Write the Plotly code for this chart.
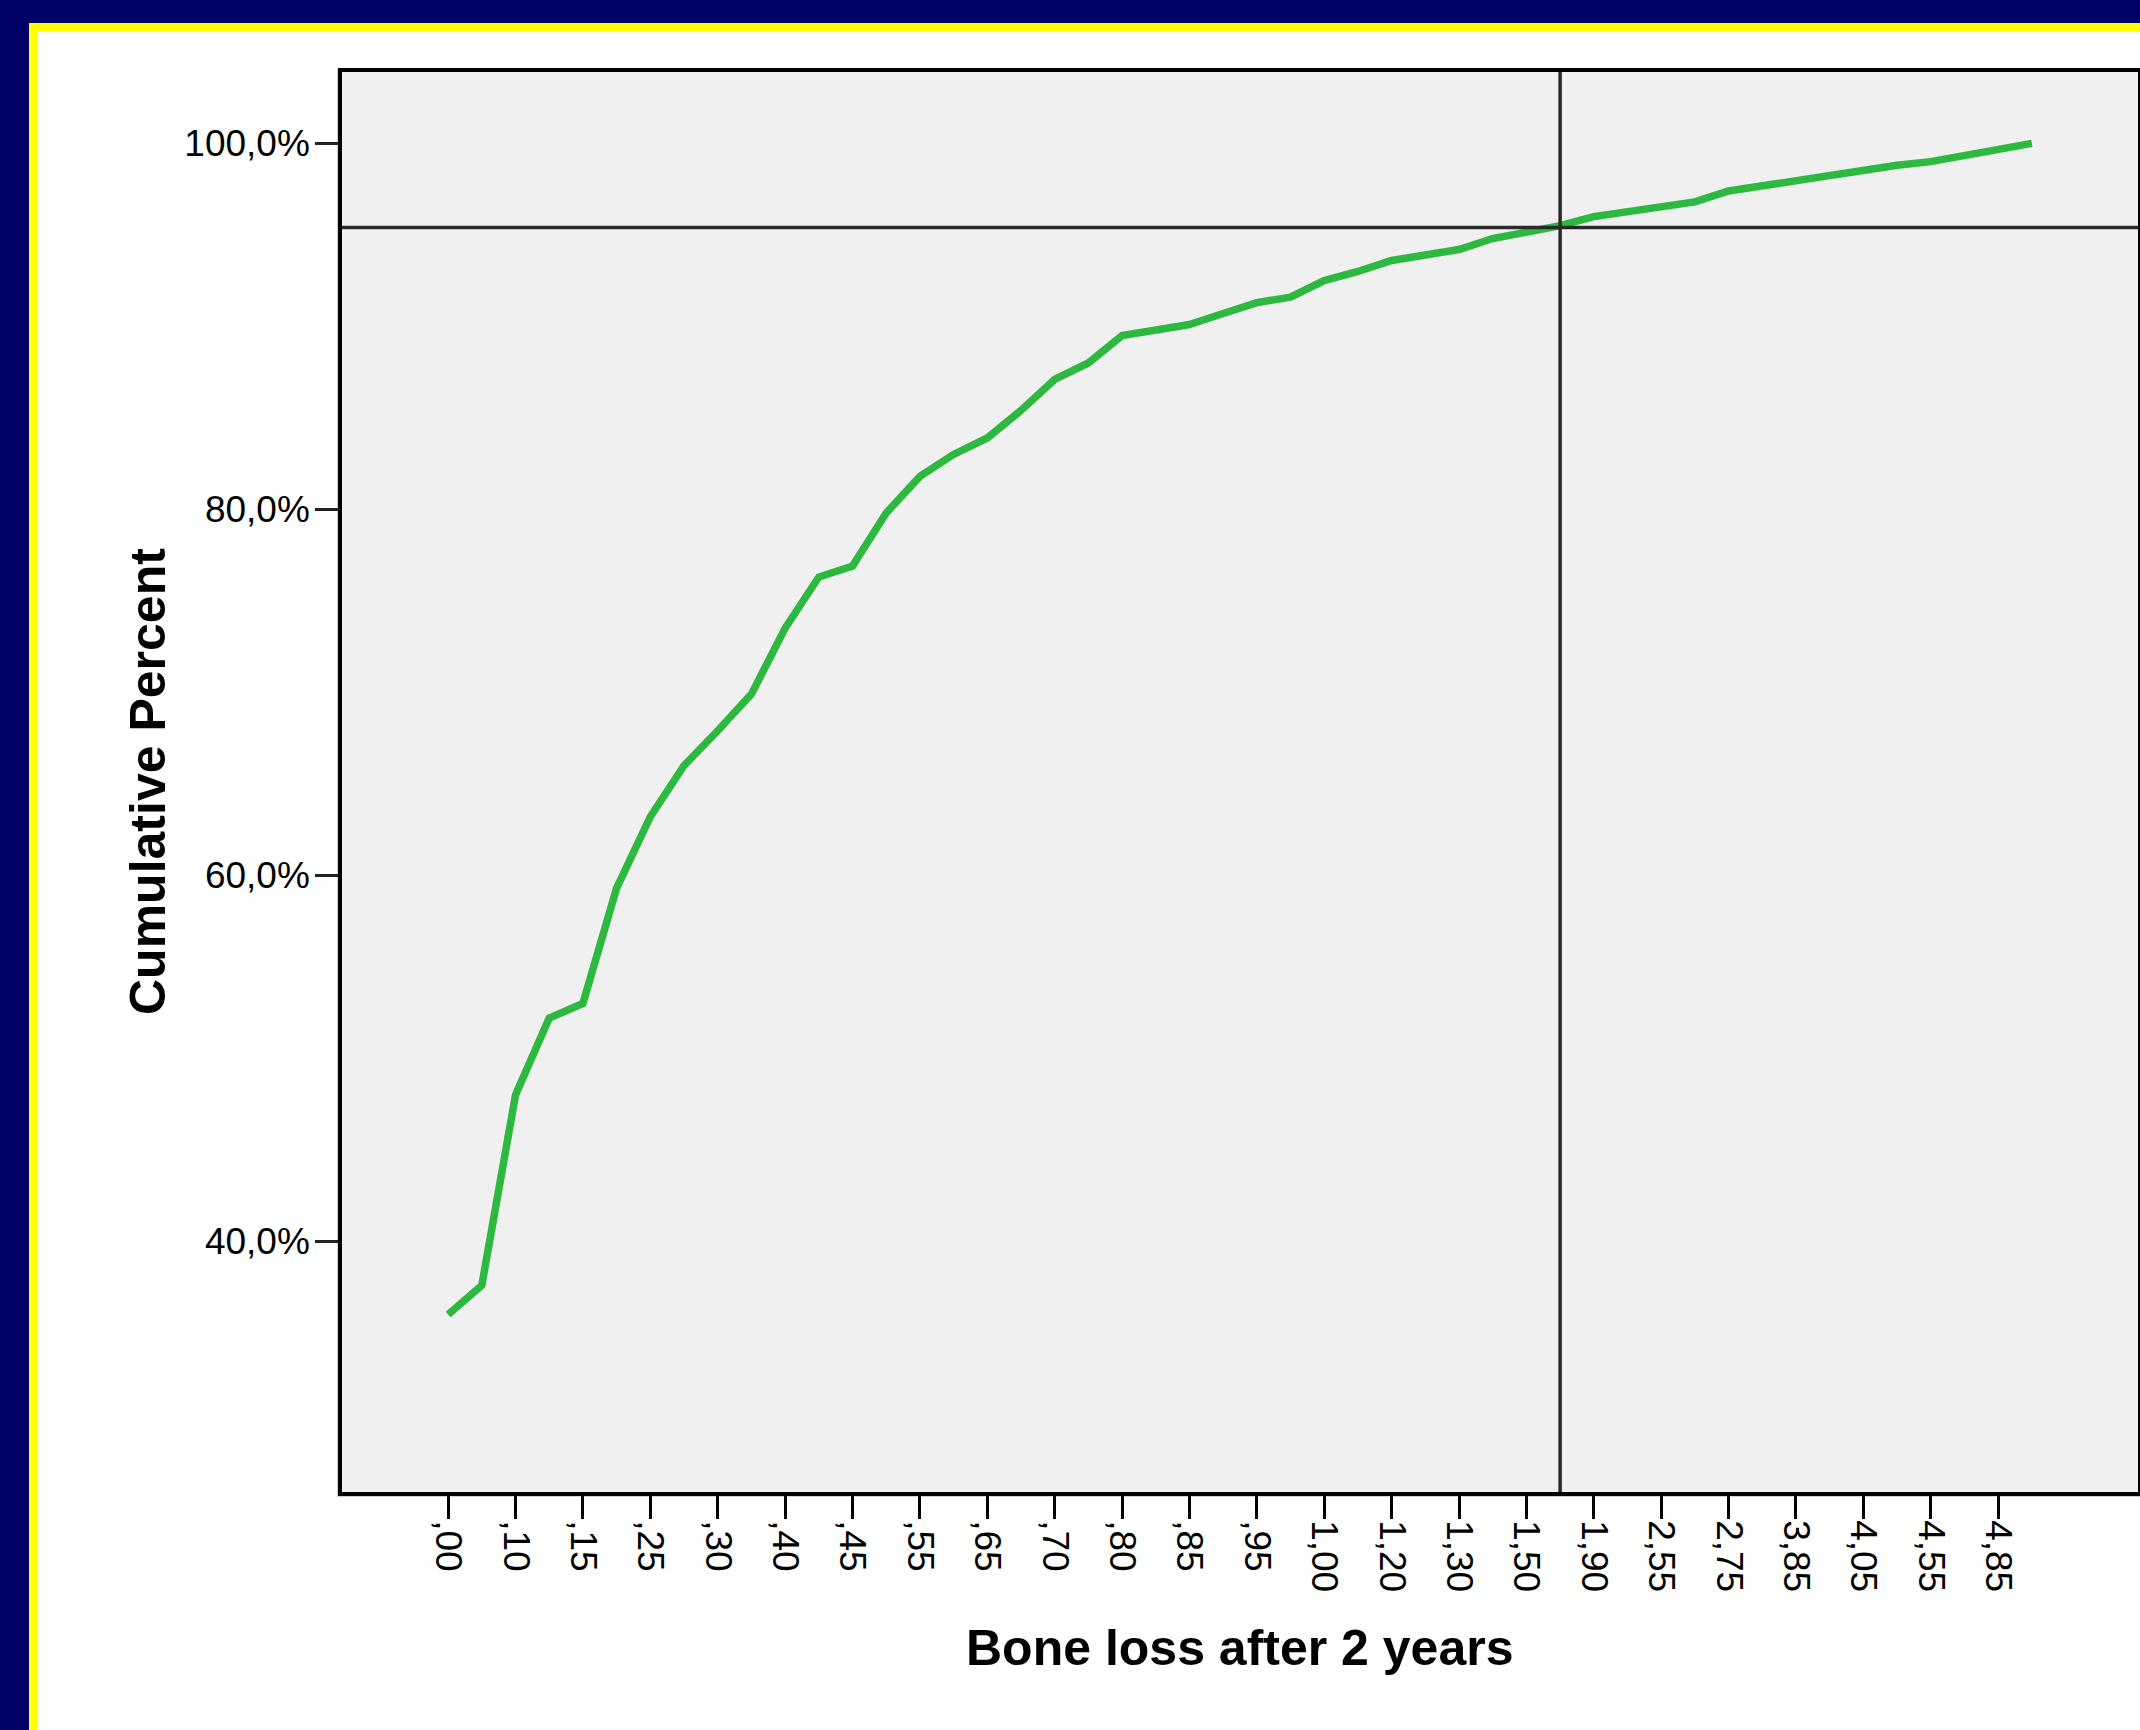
import plotly.graph_objects as go

# ---- data ----
categories = [",00", ",05", ",10", ",13", ",15", ",20", ",25", ",28", ",30", ",35",
              ",40", ",43", ",45", ",50", ",55", ",60", ",65", ",68", ",70", ",75",
              ",80", ",83", ",85", ",90", ",95", ",98", "1,00", "1,10", "1,20", "1,25",
              "1,30", "1,40", "1,50", "1,70", "1,90", "2,05", "2,55", "2,65", "2,75", "3,00",
              "3,85", "3,95", "4,05", "4,35", "4,55", "4,70", "4,85", "5,00"]
cum_percent = [36.0, 37.6, 48.0, 52.2, 53.0, 59.3, 63.2, 66.0, 67.9, 69.9,
               73.5, 76.3, 76.9, 79.8, 81.8, 83.0, 83.9, 85.4, 87.1, 88.0,
               89.5, 89.8, 90.1, 90.7, 91.3, 91.6, 92.5, 93.0, 93.6, 93.9,
               94.2, 94.8, 95.1, 95.5, 96.0, 96.3, 96.6, 96.8, 97.4, 97.7,
               97.9, 98.2, 98.5, 98.8, 99.0, 99.3, 99.6, 100.0]
x_tick_labels = categories[::2]
y_tick_values = [40, 60, 80, 100]
y_tick_labels = ["40,0%", "60,0%", "80,0%", "100,0%"]
ref_category = categories[33]
ref_percent = 95.4

# ---- geometry (pixels) ----
W, H = 2140, 1730
L, R, T, B = 342, 2138, 72, 1492
pw, ph = R - L, B - T


def px(x):
    return (x - L) / pw


def py(y):
    return (B - y) / ph


FONT = "Arial, Liberation Sans, sans-serif"

fig = go.Figure()
fig.add_trace(go.Scatter(x=categories, y=cum_percent, mode="lines",
                         line=dict(color="#2db83f", width=7.5), hoverinfo="skip",
                         showlegend=False))

shapes = [
    # yellow frame
    dict(type="rect", xref="paper", yref="paper", x0=px(29), x1=px(2200), y0=py(23), y1=py(1800),
         fillcolor="#ffff00", line=dict(width=0), layer="below"),
    # white panel
    dict(type="rect", xref="paper", yref="paper", x0=px(37), x1=px(2200), y0=py(31), y1=py(1800),
         fillcolor="#ffffff", line=dict(width=0), layer="below"),
    # shadow around plot area
    dict(type="rect", xref="paper", yref="paper", x0=px(337), x1=px(2140), y0=py(69), y1=py(1497),
         fillcolor="#d0d0d0", line=dict(width=0), layer="below"),
    # plot area
    dict(type="rect", xref="paper", yref="paper", x0=0, x1=1, y0=0, y1=1,
         fillcolor="#f0f0f0", line=dict(width=0), layer="below"),
    # reference lines
    dict(type="line", xref="x", yref="paper", x0=ref_category, x1=ref_category, y0=0, y1=1,
         line=dict(color="#2a2a2a", width=3.5), layer="above"),
    dict(type="line", xref="paper", yref="y", x0=0, x1=1, y0=ref_percent, y1=ref_percent,
         line=dict(color="#2a2a2a", width=3.5), layer="above"),
]

annotations = [
    dict(text="<b>Cumulative Percent</b>", xref="paper", yref="paper",
         x=px(148), y=py(782), xanchor="center", yanchor="middle", textangle=-90,
         showarrow=False, font=dict(family=FONT, size=50, color="#000000")),
    dict(text="<b>Bone loss after 2 years</b>", xref="paper", yref="paper",
         x=px(1240), y=py(1648), xanchor="center", yanchor="middle",
         showarrow=False, font=dict(family=FONT, size=50, color="#000000")),
]

fig.update_layout(
    width=W, height=H,
    margin=dict(l=L, r=W - R, t=T, b=H - B, autoexpand=False),
    paper_bgcolor="#000066",
    plot_bgcolor="#f0f0f0",
    shapes=shapes,
    annotations=annotations,
    showlegend=False,
    xaxis=dict(type="category", categoryorder="array", categoryarray=categories,
               range=[-3.15, 50.15], tickmode="array", tickvals=x_tick_labels,
               ticktext=x_tick_labels, tickangle=90, ticks="outside", ticklen=23,
               tickwidth=3, tickcolor="#000000", showgrid=False, zeroline=False,
               showline=True, linecolor="#000000", linewidth=3.5, mirror=True,
               ticklabelstandoff=-6,
               tickfont=dict(family=FONT, size=37, color="#000000")),
    yaxis=dict(range=[26.3, 103.9], tickmode="array", tickvals=y_tick_values,
               ticktext=y_tick_labels, ticks="outside", ticklen=23, tickwidth=3,
               tickcolor="#222222", showgrid=False, zeroline=False,
               showline=True, linecolor="#000000", linewidth=3.5, mirror=True,
               ticklabelstandoff=-2,
               tickfont=dict(family=FONT, size=37, color="#000000")),
)

fig.write_html(
    "out.html",
    config={"displayModeBar": False},
    post_script="document.body.style.margin='0';document.body.style.padding='0';"
                "document.body.style.overflow='hidden';"
                "document.body.style.background='#000066';",
)
